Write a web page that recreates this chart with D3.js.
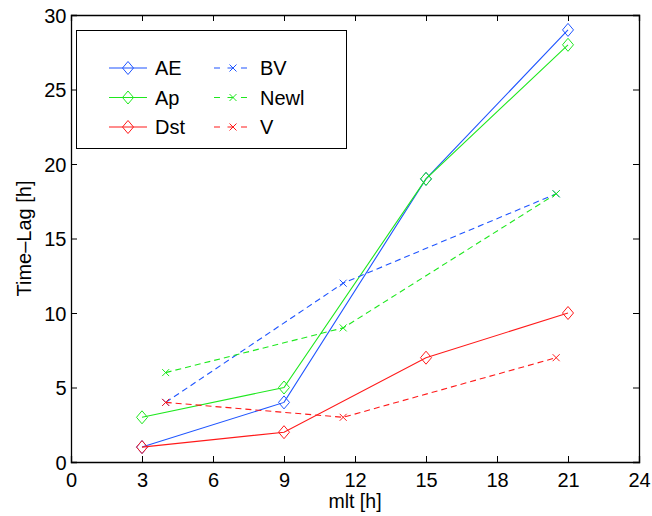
<!DOCTYPE html>
<html><head><meta charset="utf-8">
<script src="https://cdn.jsdelivr.net/npm/d3@7"></script>
<style>body{margin:0;background:#fff}svg{display:block}text{font-family:"Liberation Sans",Arial,Helvetica,sans-serif;fill:#000}</style>
</head><body>
<script>
const xTicks = [0,3,6,9,12,15,18,21,24];
const yTicks = [0,5,10,15,20,25,30];
const aeX = [3,9,15,21],    aeY = [1,4,19,29];
const apX = [3,9,15,21],    apY = [3,5,19,28];
const dstX = [3,9,15,21],   dstY = [1,2,7,10];
const bvX = [4,11.5,20.5],  bvY = [4,12,18];
const newlX = [4,11.5,20.5],newlY = [6,9,18];
const vX = [4,11.5,20.5],   vY = [4,3,7];
const seriesNames = ["AE","Ap","Dst","BV","Newl","V"];

const W=652,H=516;
const m={l:71,r:13,t:15,b:54};
const FS="20px";
const svg=d3.select("body").append("svg").attr("width",W).attr("height",H);
const x=d3.scaleLinear().domain([0,24]).range([m.l,W-m.r]);
const y=d3.scaleLinear().domain([0,30]).range([H-m.b,m.t]);
const BLUE="#1f55ff",GREEN="#1ee81e",RED="#ff1a1a";

const series=[
 {name:seriesNames[0],xs:aeX,ys:aeY,color:BLUE,dash:null,mk:"d"},
 {name:seriesNames[1],xs:apX,ys:apY,color:GREEN,dash:null,mk:"d"},
 {name:seriesNames[2],xs:dstX,ys:dstY,color:RED,dash:null,mk:"d"},
 {name:seriesNames[3],xs:bvX,ys:bvY,color:BLUE,dash:"6,4",mk:"x"},
 {name:seriesNames[4],xs:newlX,ys:newlY,color:GREEN,dash:"6,4",mk:"x"},
 {name:seriesNames[5],xs:vX,ys:vY,color:RED,dash:"6,4",mk:"x"}
];

// axes frame with inward ticks on all sides
const tl=6;
const gx=svg.append("g").attr("transform",`translate(0,${y(0)})`)
 .call(d3.axisBottom(x).tickValues(xTicks).tickSize(-tl));
const gxt=svg.append("g").attr("transform",`translate(0,${y(30)})`)
 .call(d3.axisTop(x).tickValues(xTicks).tickSize(-tl).tickFormat(""));
const gy=svg.append("g").attr("transform",`translate(${x(0)},0)`)
 .call(d3.axisLeft(y).tickValues(yTicks).tickSize(-tl).tickPadding(4.5));
const gyr=svg.append("g").attr("transform",`translate(${x(24)},0)`)
 .call(d3.axisRight(y).tickValues(yTicks).tickSize(-tl).tickFormat(""));
[gx,gxt,gy,gyr].forEach(g=>{
  g.select(".domain").attr("stroke","#000").attr("stroke-width",1.3);
  g.selectAll(".tick line").attr("stroke","#000").attr("stroke-width",1);
  g.selectAll("text").style("font-size",FS).attr("fill","#000");
});
gx.selectAll(".tick text").attr("y",24.5).attr("dy","0");
gy.selectAll(".tick text").attr("dy","0.36em");

// lines & markers
const line=d3.line().x(d=>x(d[0])).y(d=>y(d[1]));
function marker(g,kind,cx,cy,color){
  if(kind==="d"){
    g.append("path").attr("d",`M${cx},${cy-6.5}L${cx+5.5},${cy}L${cx},${cy+6.5}L${cx-5.5},${cy}Z`)
     .attr("fill","none").attr("stroke",color).attr("stroke-width",1);
  } else {
    const s=3.5;
    g.append("path").attr("d",`M${cx-s},${cy-s}L${cx+s},${cy+s}M${cx-s},${cy+s}L${cx+s},${cy-s}`)
     .attr("stroke",color).attr("stroke-width",1);
  }
}
series.forEach(s=>{
  const pts=s.xs.map((v,i)=>[v,s.ys[i]]);
  const g=svg.append("g");
  g.append("path").datum(pts).attr("d",line).attr("fill","none")
   .attr("stroke",s.color).attr("stroke-width",1.1).attr("stroke-dasharray",s.dash);
  pts.forEach(p=>marker(g,s.mk,x(p[0]),y(p[1]),s.color));
});

// legend
const lg=svg.append("g");
lg.append("rect").attr("x",76.5).attr("y",30.5).attr("width",270).attr("height",118)
 .attr("fill","#fff").attr("stroke","#000").attr("stroke-width",1);
series.forEach((s,i)=>{
  const col=Math.floor(i/3), row=i%3;
  const x0=col===0?109:214, cy=68+row*29.5;
  lg.append("line").attr("x1",x0).attr("x2",x0+38).attr("y1",cy).attr("y2",cy)
   .attr("stroke",s.color).attr("stroke-width",1.1).attr("stroke-dasharray",s.dash?"6,7.5":null);
  marker(lg,s.mk,x0+19,cy,s.color);
  lg.append("text").attr("x",x0+46).attr("y",cy).attr("dy","0.36em").style("font-size",FS).text(s.name);
});

// axis labels
svg.append("text").attr("x",(x(0)+x(24))/2).attr("y",508).attr("text-anchor","middle")
 .style("font-size","19.5px").text("mlt [h]");
svg.append("text").attr("transform",`translate(31,${(y(0)+y(30))/2}) rotate(-90)`)
 .attr("text-anchor","middle").style("font-size",FS).text("Time–Lag [h]");
</script>
</body></html>
